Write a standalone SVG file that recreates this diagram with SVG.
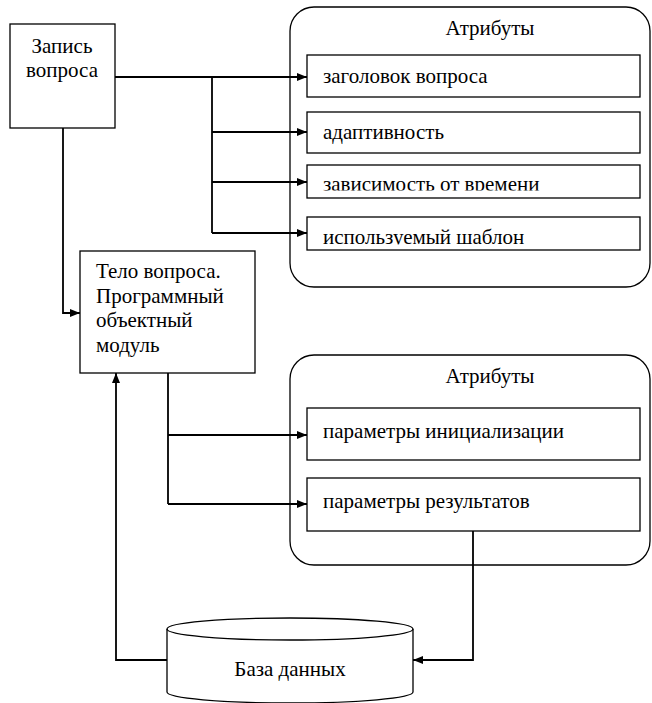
<svg xmlns="http://www.w3.org/2000/svg" width="652" height="703" viewBox="0 0 652 703">
<defs>
<style>
.box{fill:#fff;stroke:#000;stroke-width:1.3}
.grp{fill:#fff;stroke:#000;stroke-width:1.3}
.t{font-family:'Liberation Serif','Times New Roman',serif;font-size:21px;fill:#000}
.c{fill:none;stroke:#000;stroke-width:1.8}
</style>
<marker id="ah" viewBox="0 0 10 8" refX="10" refY="4" markerWidth="10" markerHeight="8" markerUnits="userSpaceOnUse" orient="auto">
<path d="M0,0 L10,4 L0,8 Z" fill="#000"/>
</marker>
<clipPath id="clip3"><rect x="307" y="165" width="333" height="25.5"/></clipPath>
<clipPath id="clip4"><rect x="307" y="217" width="333" height="27.5"/></clipPath>
</defs>
<rect width="652" height="703" fill="#fff"/>

<g id="attrs1">
<rect class="grp" x="290" y="7" width="360" height="280" rx="24" ry="24"/>
<text class="t" x="490" y="35" text-anchor="middle">Атрибуты</text>
</g>
<g id="a1">
<rect class="box" x="307" y="55" width="333" height="42"/>
<text class="t" x="323" y="83">заголовок вопроса</text>
</g>
<g id="a2">
<rect class="box" x="307" y="112" width="333" height="41"/>
<text class="t" x="323" y="139">адаптивность</text>
</g>
<g id="a3">
<rect class="box" x="307" y="165" width="333" height="33"/>
<text class="t" x="323" y="191" clip-path="url(#clip3)">зависимость от времени</text>
</g>
<g id="a4">
<rect class="box" x="307" y="217" width="333" height="33"/>
<text class="t" x="323" y="244" clip-path="url(#clip4)">используемый шаблон</text>
</g>

<g id="attrs2">
<rect class="grp" x="290" y="355" width="360" height="210" rx="24" ry="24"/>
<text class="t" x="490" y="383" text-anchor="middle">Атрибуты</text>
</g>
<g id="p1">
<rect class="box" x="307" y="408" width="333" height="52"/>
<text class="t" x="323" y="438">параметры инициализации</text>
</g>
<g id="p2">
<rect class="box" x="307" y="478" width="333" height="53"/>
<text class="t" x="323" y="508">параметры результатов</text>
</g>

<g id="zapis">
<rect class="box" x="10" y="24" width="105" height="104"/>
<text class="t" x="62" y="53" text-anchor="middle">Запись</text>
<text class="t" x="62" y="77" text-anchor="middle">вопроса</text>
</g>

<g id="telo">
<rect class="box" x="80" y="251" width="175" height="122"/>
<text class="t" x="96" y="278">Тело вопроса.</text>
<text class="t" x="96" y="303">Программный</text>
<text class="t" x="96" y="327">объектный</text>
<text class="t" x="96" y="352">модуль</text>
</g>

<g id="db">
<path class="box" d="M167,629 L167,692 A123,11 0 0 0 413,692 L413,629 A123,11 0 0 0 167,629 Z"/>
<path class="c" style="stroke-width:1.3" d="M167,629 A123,11 0 0 0 413,629"/>
<text class="t" x="290" y="676" text-anchor="middle">База данных</text>
</g>

<g id="connectors">
<path class="c" d="M115,77 L307,77" marker-end="url(#ah)"/>
<path class="c" d="M212,77 L212,233"/>
<path class="c" d="M212,132 L307,132" marker-end="url(#ah)"/>
<path class="c" d="M212,182 L307,182" marker-end="url(#ah)"/>
<path class="c" d="M212,233 L307,233" marker-end="url(#ah)"/>
<path class="c" d="M63,128 L63,313 L80,313" marker-end="url(#ah)"/>
<path class="c" d="M168,373 L168,504"/>
<path class="c" d="M168,435 L307,435" marker-end="url(#ah)"/>
<path class="c" d="M168,504 L307,504" marker-end="url(#ah)"/>
<path class="c" d="M167,660 L116,660 L116,373" marker-end="url(#ah)"/>
<path class="c" d="M473,531 L473,660 L413,660" marker-end="url(#ah)"/>
</g>
</svg>
